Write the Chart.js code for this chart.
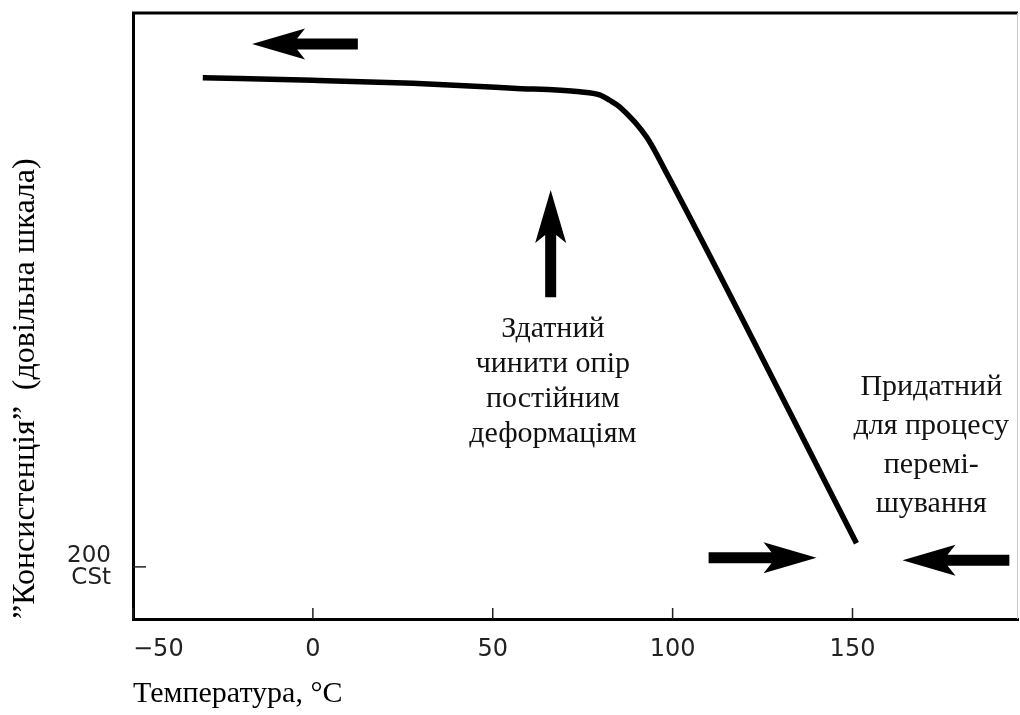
<!DOCTYPE html>
<html>
<head>
<meta charset="utf-8">
<script src="https://cdn.jsdelivr.net/npm/chart.js"></script>
<style>
  body { margin: 0; background: #fff; }
</style>
</head>
<body>
<canvas id="mycanvas" width="1020" height="715"></canvas>
<script>
// curve (temperature, arbitrary consistency units 0..100)
var temperature = [-30.6, 0, 27.8, 55.6, 74.2, 79.7, 82.5, 85.3, 92.8, 98.3, 151.1];
var consistency = [89.3, 88.9, 88.4, 87.6, 87.0, 86.5, 85.6, 84.5, 79.5, 73.6, 12.5];

var xTickValues = [-50, 0, 50, 100, 150];
var xTickLabels = ['\u221250', '0', '50', '100', '150'];
var yTickValues = [8.6];
var yTickLabels = [['200', 'CSt']];

// arrows: [x tail, y tail, x tip, y tip] in data units
var arrows = [
  [12.5, 94.9, -16.9, 94.9],
  [66.1, 53.1, 66.1, 70.8],
  [110, 10.1, 140, 10.1],
  [193.6, 9.7, 163.9, 9.7]
];

// notes: x centre, y of first baseline, lines
var noteX = [66.7, 171.9];
var noteY = [46.5, 37.0];
var noteLines = [
  ['Здатний', 'чинити опір', 'постійним', 'деформаціям'],
  ['Придатний', 'для процесу', 'перемі-', 'шування']
];
var noteStep = [35, 39];

var points = [];
for (var i in temperature) {
  points.push({x: temperature[i], y: consistency[i]});
}

function drawArrow(ctx, x1, y1, x2, y2) {
  var len = Math.hypot(x2 - x1, y2 - y1);
  var dx = (x2 - x1) / len, dy = (y2 - y1) / len;
  var nx = -dy, ny = dx;
  var hl = 53, hw = 31, sw = 11;
  var bx = x2 - dx * hl, by = y2 - dy * hl;
  var cx = x2 - dx * hl * 0.85, cy = y2 - dy * hl * 0.85;
  ctx.beginPath();
  ctx.moveTo(x2, y2);
  ctx.lineTo(bx + nx * hw / 2, by + ny * hw / 2);
  ctx.lineTo(cx + nx * sw / 2, cy + ny * sw / 2);
  ctx.lineTo(x1 + nx * sw / 2, y1 + ny * sw / 2);
  ctx.lineTo(x1 - nx * sw / 2, y1 - ny * sw / 2);
  ctx.lineTo(cx - nx * sw / 2, cy - ny * sw / 2);
  ctx.lineTo(bx - nx * hw / 2, by - ny * hw / 2);
  ctx.closePath();
  ctx.fill();
}

var decor = {
  id: 'decor',
  afterDraw: function(chart) {
    var ctx = chart.ctx, a = chart.chartArea;
    var xs = chart.scales.x, ys = chart.scales.y;
    ctx.save();
    // top and right frame
    ctx.strokeStyle = '#000';
    ctx.lineWidth = 3;
    ctx.beginPath();
    ctx.moveTo(a.left - 1, a.top);
    ctx.lineTo(a.right, a.top);
    ctx.stroke();
    ctx.strokeStyle = '#c8c8c8';
    ctx.lineWidth = 1;
    ctx.beginPath();
    ctx.moveTo(a.right - 0.5, a.top);
    ctx.lineTo(a.right - 0.5, a.bottom);
    ctx.stroke();

    // short ticks pointing into the plot
    ctx.strokeStyle = '#222';
    ctx.lineWidth = 1.5;
    xTickValues.forEach(function(v) {
      var px = xs.getPixelForValue(v);
      ctx.beginPath();
      ctx.moveTo(px, a.bottom);
      ctx.lineTo(px, a.bottom - 11);
      ctx.stroke();
    });
    yTickValues.forEach(function(v) {
      var py = ys.getPixelForValue(v);
      ctx.beginPath();
      ctx.moveTo(a.left, py);
      ctx.lineTo(a.left + 13, py);
      ctx.stroke();
    });

    // arrows
    ctx.fillStyle = '#000';
    arrows.forEach(function(r) {
      drawArrow(ctx, xs.getPixelForValue(r[0]), ys.getPixelForValue(r[1]),
                xs.getPixelForValue(r[2]), ys.getPixelForValue(r[3]));
    });

    // notes
    ctx.font = '30px "Liberation Serif", "Times New Roman", serif';
    ctx.textAlign = 'center';
    ctx.textBaseline = 'alphabetic';
    ctx.fillStyle = '#111';
    noteLines.forEach(function(lines, k) {
      var px = xs.getPixelForValue(noteX[k]);
      var py = ys.getPixelForValue(noteY[k]);
      lines.forEach(function(t, j) {
        ctx.fillText(t, px, py + j * noteStep[k]);
      });
    });
    ctx.restore();
  }
};

var chartdata = {
  datasets: [
    {
      label: 'Консистенція',
      data: points,
      fill: false,
      borderColor: '#000',
      borderWidth: 5.5,
      pointRadius: 0,
      cubicInterpolationMode: 'monotone'
    }
  ]
};

var ctx = document.getElementById('mycanvas');

var LineGraph = new Chart(ctx, {
  type: 'line',
  data: chartdata,
  plugins: [decor],
  options: {
    responsive: false,
    animation: false,
    layout: { padding: { top: 13, right: 2, left: 0, bottom: 0 } },
    plugins: {
      legend: { display: false },
      tooltip: { enabled: false }
    },
    scales: {
      x: {
        type: 'linear',
        min: -50,
        max: 196,
        grid: { display: false, drawTicks: false },
        border: { display: true, color: '#000', width: 3 },
        afterBuildTicks: function(scale) {
          scale.ticks = xTickValues.concat([scale.max]).map(function(v) { return {value: v}; });
        },
        afterFit: function(scale) {
          scale.height = 96;
          scale.paddingLeft = 0;
          scale.paddingRight = 0;
        },
        ticks: {
          autoSkip: false,
          maxRotation: 0,
          align: 'inner',
          padding: 16,
          color: '#222',
          font: { family: '"DejaVu Sans", sans-serif', size: 24 },
          callback: function(value) {
            var k = xTickValues.indexOf(value);
            return k < 0 ? '' : xTickLabels[k];
          }
        },
        title: {
          display: true,
          text: 'Температура, °C',
          align: 'start',
          color: '#000',
          padding: { top: 0, bottom: 3 },
          font: { family: '"Liberation Serif", "Times New Roman", serif', size: 30 }
        }
      },
      y: {
        type: 'linear',
        min: 0,
        max: 100,
        grid: { display: false, drawTicks: false },
        border: { display: true, color: '#000', width: 3 },
        afterBuildTicks: function(scale) {
          scale.ticks = yTickValues.map(function(v) { return {value: v}; });
        },
        afterFit: function(scale) {
          scale.width = 133;
          scale.paddingTop = 0;
          scale.paddingBottom = 0;
        },
        ticks: {
          autoSkip: false,
          padding: 22,
          color: '#222',
          font: { family: '"DejaVu Sans", sans-serif', size: 23, lineHeight: 0.95 },
          callback: function(value) {
            var k = yTickValues.indexOf(value);
            return k < 0 ? '' : yTickLabels[k];
          }
        },
        title: {
          display: true,
          text: '”Консистенція”  (довільна шкала)',
          align: 'start',
          color: '#000',
          padding: { top: 6, bottom: 0 },
          font: { family: '"Liberation Serif", "Times New Roman", serif', size: 32 }
        }
      }
    }
  }
});
</script>
</body>
</html>
